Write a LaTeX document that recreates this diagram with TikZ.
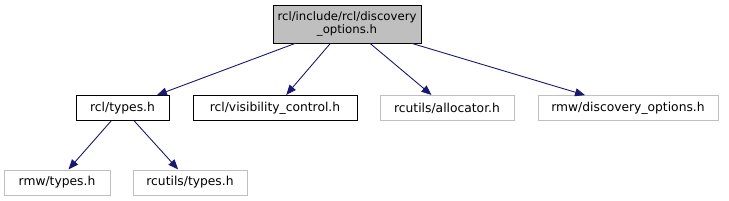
\documentclass[tikz,border=0pt]{standalone}
\usepackage{fontspec}
\setmainfont{DejaVu Sans}
\usetikzlibrary{arrows.meta,positioning}
\definecolor{edgeblue}{HTML}{191970}
\definecolor{boxgray}{HTML}{BFBFBF}

\begin{document}
\begin{tikzpicture}[x=1pt,y=1pt,
  file/.style={draw=black,inner sep=0pt,minimum height=25pt,font=\fontsize{12.3}{14}\selectfont},
  extfile/.style={file,draw=boxgray},
  incl/.style={draw=edgeblue,line width=0.9pt,-{Triangle[length=10pt,width=8pt]},shorten >=0.5pt}]
\useasboundingbox (0,0) rectangle (729,201);
\node[file,fill=boxgray,minimum width=148pt,minimum height=38pt,align=center,
  font=\fontsize{11.7}{14}\selectfont] (main) at (347,177)
  {rcl/include/rcl/discovery\\[-1pt]\_options.h};
\node[file,minimum width=93pt] (rcltypes) at (122.5,93) {rcl/types.h};
\node[file,minimum width=164pt] (vis) at (275,93) {rcl/visibility\_control.h};
\node[extfile,minimum width=134pt] (alloc) at (447,93) {rcutils/allocator.h};
\node[extfile,minimum width=180pt] (rmwdisc) at (628,93) {rmw/discovery\_options.h};
\node[extfile,minimum width=106pt] (rmwtypes) at (57,18.5) {rmw/types.h};
\node[extfile,minimum width=114pt] (rcutilstypes) at (190,18.5) {rcutils/types.h};
\draw[incl] (main) -- (rcltypes);
\draw[incl] (main) -- (vis);
\draw[incl] (main) -- (alloc);
\draw[incl] (main) -- (rmwdisc);
\draw[incl] (rcltypes) -- (rmwtypes);
\draw[incl] (rcltypes) -- (rcutilstypes);
\end{tikzpicture}
\end{document}
